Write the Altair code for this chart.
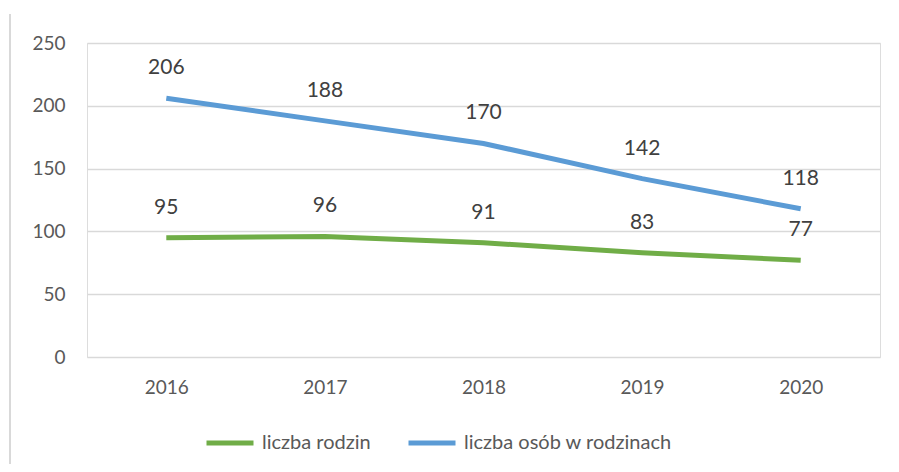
import altair as alt
import pandas as pd

years = ["2016", "2017", "2018", "2019", "2020"]
series_names = ["liczba rodzin", "liczba osób w rodzinach"]
rodziny = [95, 96, 91, 83, 77]
osoby = [206, 188, 170, 142, 118]
colors = ["#70AD47", "#5B9BD5"]

rows = []
for y, v in zip(years, rodziny):
    rows.append({"year": y, "value": v, "series": series_names[0]})
for y, v in zip(years, osoby):
    rows.append({"year": y, "value": v, "series": series_names[1]})
df = pd.DataFrame(rows)

FONT = "Lato"

base = alt.Chart(df).encode(
    x=alt.X("year:N", scale=alt.Scale(padding=0.5),
            axis=alt.Axis(title=None, labelAngle=0, domain=False, ticks=False,
                          grid=False, labelPadding=21, labelFontSize=19,
                          labelColor="#595959", labelFont=FONT)),
    y=alt.Y("value:Q", scale=alt.Scale(domain=[0, 250], nice=False),
            axis=alt.Axis(title=None, values=[0, 50, 100, 150, 200, 250],
                          domain=False, ticks=False, gridColor="#D9D9D9",
                          gridWidth=1.5, labelPadding=22, labelFontSize=19,
                          labelColor="#595959", labelFont=FONT)),
)

lines = base.mark_line(strokeWidth=5, strokeCap="butt").encode(
    color=alt.Color("series:N",
                    scale=alt.Scale(domain=series_names, range=colors),
                    sort=series_names,
                    legend=alt.Legend(title=None, orient="none", direction="horizontal",
                                      legendX=117, legendY=374,
                                      symbolType="stroke", symbolStrokeWidth=5,
                                      symbolSize=2209, labelOffset=6,
                                      columnPadding=27, labelFontSize=20,
                                      labelLimit=400,
                                      labelColor="#595959", labelFont=FONT))
)

labels = base.mark_text(dy=-30, fontSize=21, color="#404040", font=FONT).encode(
    text=alt.Text("value:Q"),
    detail="series:N",
)

border = alt.Chart(pd.DataFrame({"a": [0]})).mark_rule(color="#D9D9D9", strokeWidth=2).encode(
    x=alt.value(-77), y=alt.value(-29), y2=alt.value(429)
)

chart = alt.layer(border, lines, labels).properties(
    width=793, height=314,
    autosize=alt.AutoSizeParams(type="none"),
    padding={"left": 79, "top": 35, "right": 11, "bottom": 107},
).configure_view(stroke=None).configure(background="white")

chart.save("out.html", embed_options={"renderer": "svg", "actions": False})
